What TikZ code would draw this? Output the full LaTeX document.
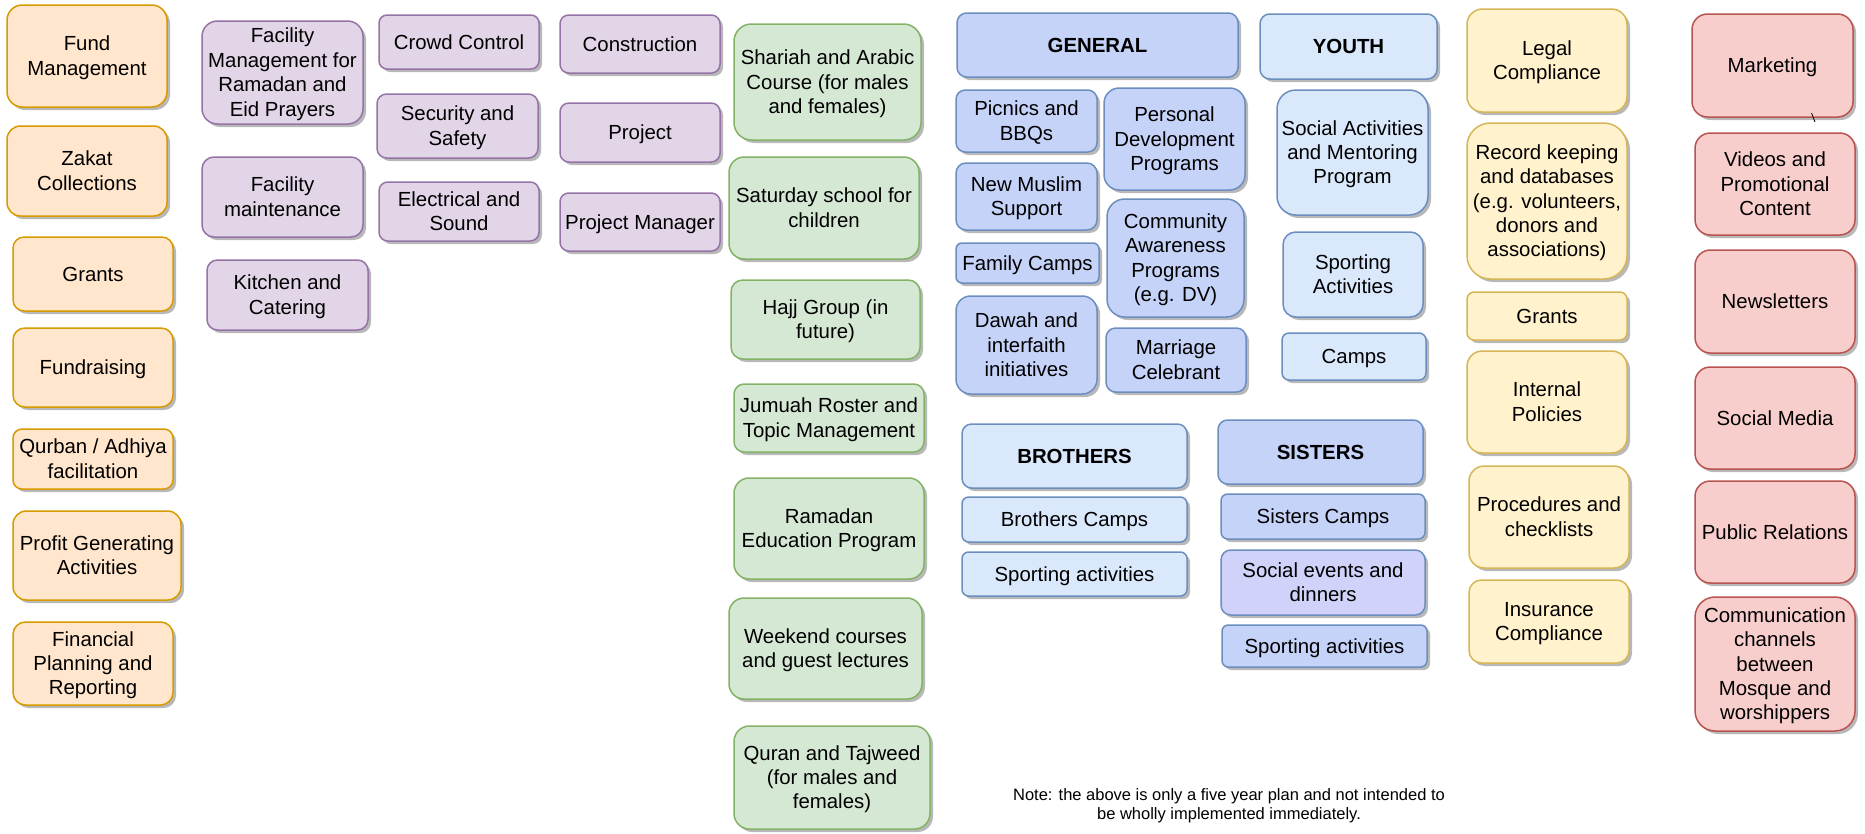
\documentclass[tikz,border=0pt]{standalone}
\usepackage{fontspec}
\setmainfont{Liberation Sans}
\usetikzlibrary{shadows}
\definecolor{orfill}{HTML}{FFE6CC}\definecolor{ordraw}{HTML}{D79B00}
\definecolor{pufill}{HTML}{E1D5E7}\definecolor{pudraw}{HTML}{9673A6}
\definecolor{grfill}{HTML}{D5E8D4}\definecolor{grdraw}{HTML}{82B366}
\definecolor{blfill}{HTML}{DAE8FC}\definecolor{bldraw}{HTML}{6C8EBF}
\definecolor{gefill}{HTML}{C6D3F8}
\definecolor{lafill}{HTML}{D0D2F9}
\definecolor{yefill}{HTML}{FFF2CC}\definecolor{yedraw}{HTML}{D6B656}
\definecolor{refill}{HTML}{F8CECC}\definecolor{redraw}{HTML}{B85450}
\newcommand\dstrut{\rule[-5.2pt]{0pt}{24.4pt}}
\tikzset{
  basebox/.style={draw, line width=1.5pt, align=center, inner sep=2pt,
    font=\fontsize{20.4}{24.4}\selectfont,
    drop shadow={shadow xshift=3pt, shadow yshift=-3pt, fill=black, opacity=0.28}},
  orbox/.style={basebox, fill=orfill, draw=ordraw},
  pubox/.style={basebox, fill=pufill, draw=pudraw},
  grbox/.style={basebox, fill=grfill, draw=grdraw},
  blbox/.style={basebox, fill=blfill, draw=bldraw},
  gebox/.style={basebox, fill=gefill, draw=bldraw},
  labox/.style={basebox, fill=lafill, draw=bldraw},
  yebox/.style={basebox, fill=yefill, draw=yedraw},
  rebox/.style={basebox, fill=refill, draw=redraw},
  notetext/.style={align=center, inner sep=0pt, font=\fontsize{16.5}{19}\selectfont}
}
\newcommand\bx[7]{%
  \pgfmathsetmacro\bw{#5-#3}\pgfmathsetmacro\bh{#6-#4}%
  \pgfmathsetmacro\br{0.15*min(\bw,\bh)}%
  \node[#2, minimum width=\bw pt, minimum height=\bh pt, rounded corners=\br pt]
    (#1) at ({(#3+#5)/2},{(#4+#6)/2}) {\dstrut#7\dstrut};}
\begin{document}
\begin{tikzpicture}[x=1pt,y=-1pt]
\useasboundingbox[fill=white] (0,0) rectangle (1865,833);
% orange column
\bx{fund}{orbox}{7}{5}{167}{107}{Fund\\Management}
\bx{zakat}{orbox}{7}{126}{167}{216}{Zakat\\Collections}
\bx{grants}{orbox}{13}{237}{173}{311}{Grants}
\bx{fundr}{orbox}{13}{328}{173}{407}{Fundraising}
\bx{qurban}{orbox}{13}{429}{173}{489}{Qurban / Adhiya\\facilitation}
\bx{profit}{orbox}{13}{511}{181}{600}{Profit Generating\\Activities}
\bx{finplan}{orbox}{13}{622}{173}{705}{Financial\\Planning and\\Reporting}
% purple columns
\bx{facram}{pubox}{202}{21}{363}{124}{Facility\\Management for\\Ramadan and\\Eid Prayers}
\bx{facmain}{pubox}{202}{157}{363}{237}{Facility\\maintenance}
\bx{kitchen}{pubox}{207}{260}{368}{330}{Kitchen and\\Catering}
\bx{crowd}{pubox}{379}{15}{539}{69}{Crowd Control}
\bx{security}{pubox}{377}{94}{538}{158}{Security and\\Safety}
\bx{electric}{pubox}{379}{182}{539}{241}{Electrical and\\Sound}
\bx{constr}{pubox}{560}{15}{720}{73}{Construction}
\bx{project}{pubox}{560}{103}{720}{162}{Project}
\bx{projman}{pubox}{560}{193}{720}{251}{Project Manager}
% green column
\bx{shariah}{grbox}{734}{24}{921}{140}{Shariah and Arabic\\Course (for males\\and females)}
\bx{saturday}{grbox}{729}{157}{919}{259}{Saturday school for\\children}
\bx{hajj}{grbox}{731}{280}{920}{359}{Hajj Group (in\\future)}
\bx{jumuah}{grbox}{734}{384}{924}{452}{Jumuah Roster and\\Topic Management}
\bx{ramadan}{grbox}{734}{478}{924}{579}{Ramadan\\Education Program}
\bx{weekend}{grbox}{729}{598}{922}{699}{Weekend courses\\and guest lectures}
\bx{quran}{grbox}{734}{726}{930}{829}{Quran and Tajweed\\(for males and\\females)}
% general
\bx{general}{gebox}{957}{13}{1238}{77}{\bfseries GENERAL}
\bx{picnics}{gebox}{956}{90}{1097}{152}{Picnics and\\BBQs}
\bx{personal}{gebox}{1104}{88}{1245}{190}{Personal\\Development\\Programs}
\bx{newmus}{gebox}{956}{163}{1097}{230}{New Muslim\\Support}
\bx{family}{gebox}{956}{243}{1099}{283}{Family Camps}
\bx{community}{gebox}{1107}{199}{1244}{317}{Community\\Awareness\\Programs\\(e.g. DV)}
\bx{dawah}{gebox}{956}{296}{1097}{394}{Dawah and\\interfaith\\initiatives}
\bx{marriage}{gebox}{1106}{328}{1246}{392}{Marriage\\Celebrant}
% youth
\bx{youth}{blbox}{1260}{14}{1437}{79}{\bfseries YOUTH}
\bx{socact}{blbox}{1277}{90}{1428}{215}{Social Activities\\and Mentoring\\Program}
\bx{sportact}{blbox}{1283}{232}{1423}{317}{Sporting\\Activities}
\bx{ycamps}{blbox}{1282}{333}{1426}{380}{Camps}
% brothers
\bx{brothers}{blbox}{962}{424}{1187}{488}{\bfseries BROTHERS}
\bx{bcamps}{blbox}{962}{497}{1187}{542}{Brothers Camps}
\bx{bsport}{blbox}{962}{552}{1187}{596}{Sporting activities}
% sisters
\bx{sisters}{gebox}{1218}{420}{1423}{484}{\bfseries SISTERS}
\bx{scamps}{gebox}{1221}{494}{1425}{539}{Sisters Camps}
\bx{ssocial}{labox}{1221}{550}{1425}{615}{Social events and\\dinners}
\bx{ssport}{gebox}{1222}{625}{1427}{667}{Sporting activities}
% yellow column
\bx{legal}{yebox}{1467}{9}{1627}{112}{Legal\\Compliance}
\bx{record}{yebox}{1467}{123}{1627}{279}{Record keeping\\and databases\\(e.g. volunteers,\\donors and\\associations)}
\bx{ygrants}{yebox}{1467}{292}{1627}{340}{Grants}
\bx{internal}{yebox}{1467}{351}{1627}{453}{Internal\\Policies}
\bx{procedures}{yebox}{1469}{466}{1629}{568}{Procedures and\\checklists}
\bx{insurance}{yebox}{1469}{580}{1629}{663}{Insurance\\Compliance}
% red column
\bx{marketing}{rebox}{1692}{14}{1853}{117}{Marketing}
\bx{videos}{rebox}{1695}{133}{1855}{235}{Videos and\\Promotional\\Content}
\bx{newsletters}{rebox}{1695}{250}{1855}{353}{Newsletters}
\bx{socmedia}{rebox}{1695}{367}{1855}{469}{Social Media}
\bx{pr}{rebox}{1695}{481}{1855}{583}{Public Relations}
\bx{comm}{rebox}{1695}{597}{1855}{731}{Communication\\channels\\between\\Mosque and\\worshippers}
% small mark
\draw[line width=0.8pt] (1811.5,113) -- (1815,122);
% note
\node[notetext] (note) at (1229,806) {Note: the above is only a five year plan and not intended to\\be wholly implemented immediately.};
\end{tikzpicture}
\end{document}
